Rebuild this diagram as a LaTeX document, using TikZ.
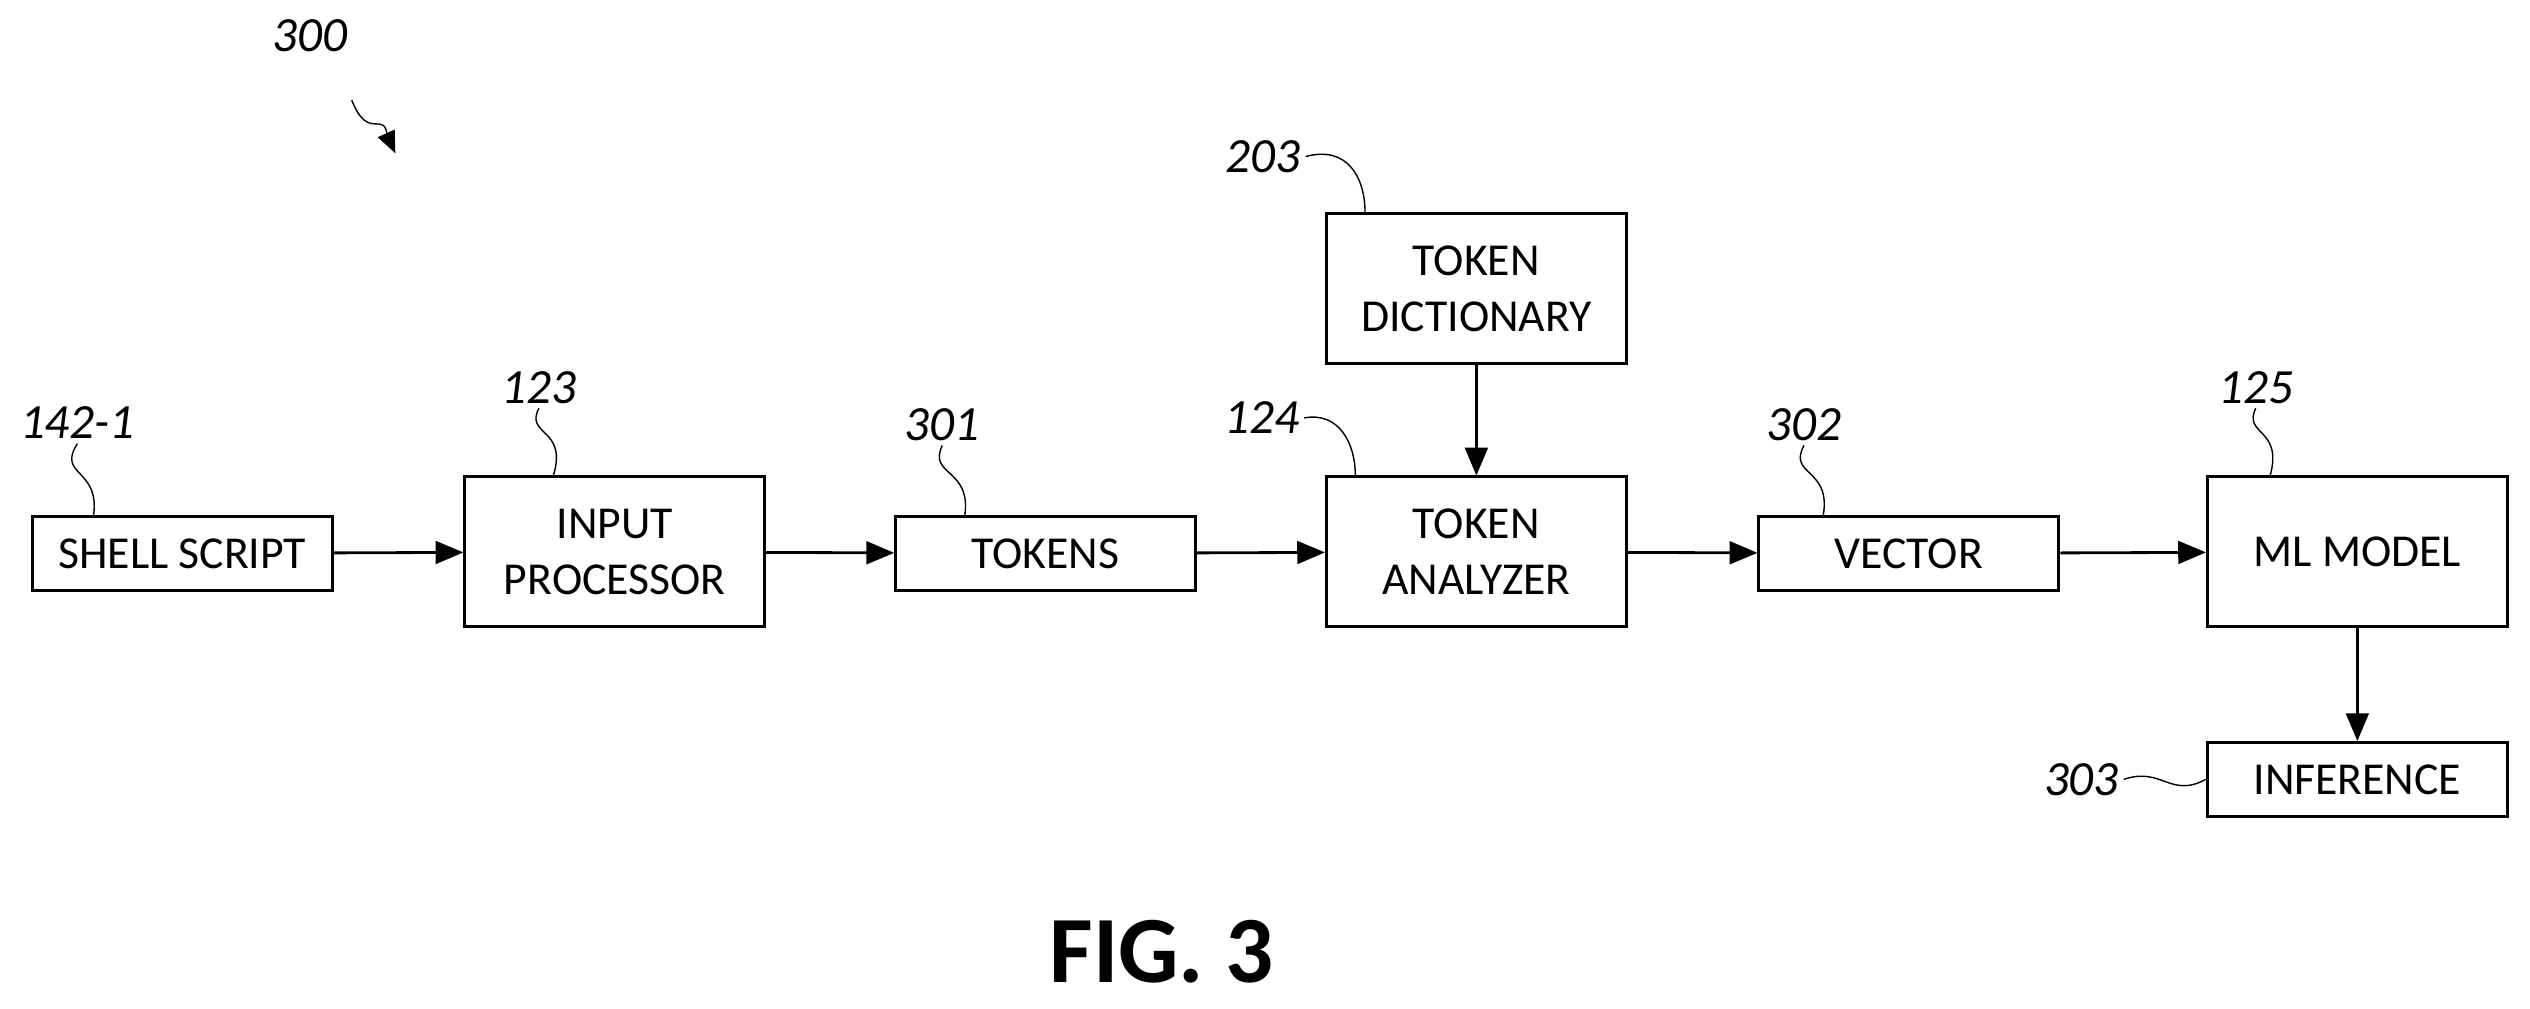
\documentclass[tikz,border=0pt]{standalone}
\usepackage{fontspec}
\setmainfont{Carlito}
\usetikzlibrary{arrows}
\tikzstyle{diagram}=[x=0.01613cm, y=-0.01613cm, line width=0.8pt, font=\fontsize{13}{16}\selectfont]
\tikzstyle{box}=[draw, align=center, minimum width=3cm, minimum height=0.74cm, inner sep=1pt]
\tikzstyle{bigbox}=[box, minimum height=1.5cm]
\tikzstyle{ref}=[font=\fontsize{14}{16}\selectfont\itshape, inner sep=1pt]
\tikzstyle{edge}=[-triangle 45]
\tikzstyle{lead}=[thin]
\begin{document}
\begin{tikzpicture}[diagram]
	\useasboundingbox (0,0) rectangle (1568,625);
	\draw (113,343) node[box] (shell) {SHELL SCRIPT};
	\draw (381,342) node[bigbox] (input) {INPUT\\PROCESSOR};
	\draw (648,343) node[box] (tokens) {TOKENS};
	\draw (915,342) node[bigbox] (analyzer) {TOKEN\\ANALYZER};
	\draw (915,179) node[bigbox] (dict) {TOKEN\\DICTIONARY};
	\draw (1183,343) node[box] (vector) {VECTOR};
	\draw (1461,342) node[bigbox] (model) {ML MODEL};
	\draw (1461,483) node[box] (infer) {INFERENCE};
	\draw[edge] (shell) -- (input);
	\draw[edge] (input) -- (tokens);
	\draw[edge] (tokens) -- (analyzer);
	\draw[edge] (dict) -- (analyzer);
	\draw[edge] (analyzer) -- (vector);
	\draw[edge] (vector) -- (model);
	\draw[edge] (model) -- (infer);
	%
	\draw (192,22) node[ref] (r300) {300};
	\draw (48,262) node[ref] (r142) {142-1};
	\draw (334,240) node[ref] (r123) {123};
	\draw (584,263) node[ref] (r301) {301};
	\draw (782,259) node[ref] (r124) {124};
	\draw (783,97) node[ref] (r203) {203};
	\draw (1118,263) node[ref] (r302) {302};
	\draw (1398,240) node[ref] (r125) {125};
	\draw (1290,483) node[ref] (r303) {303};
	\coordinate (tip300) at (245,95);
	\draw[lead] (218,62) .. controls (228,88) and (238,68) .. (240,84);
	\draw[-triangle 45, thin] (240,84) -- (tip300);
	\draw[lead] (r142.south) .. controls (35,295) and (62,290) .. (shell.north -| 58,0);
	\draw[lead] (r123.south) .. controls (325,270) and (352,265) .. (input.north -| 343,0);
	\draw[lead] (r301.south) .. controls (575,295) and (602,290) .. (tokens.north -| 598,0);
	\draw[lead] (r302.south) .. controls (1108,295) and (1135,290) .. (vector.north -| 1130,0);
	\draw[lead] (r125.south) .. controls (1390,270) and (1415,265) .. (model.north -| 1407,0);
	\draw[lead] (r124.east) .. controls (830,255) and (840,275) .. (analyzer.north -| 840,0);
	\draw[lead] (r203.east) .. controls (835,90) and (846,110) .. (dict.north -| 846,0);
	\draw[lead] (r303.east) .. controls (1340,475) and (1345,495) .. (infer.west);
	%
	\draw (720,590) node[font=\fontsize{27}{30}\selectfont\bfseries] (fig) {FIG. 3};
\end{tikzpicture}
\end{document}
